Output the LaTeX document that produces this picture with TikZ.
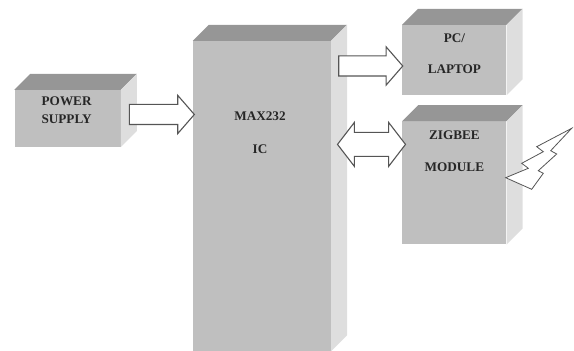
\documentclass[tikz,border=0pt]{standalone}
\usepackage{xcolor}
\usepackage{fontspec}
\setmainfont{Liberation Serif}
\usetikzlibrary{arrows.meta,positioning,shapes.arrows,calc}
\definecolor{boxfront}{RGB}{191,191,191}
\definecolor{boxtop}{RGB}{150,150,150}
\definecolor{boxside}{RGB}{222,222,222}
\definecolor{arrline}{RGB}{85,85,85}

\begin{document}
\begin{tikzpicture}[
  x=1pt, y=1pt,
  blk/.style={rectangle, fill=boxfront, inner sep=0pt, minimum width=#1},
  blk/.default=104pt,
  lbl/.style={inner sep=0pt, align=center, font=\fontsize{13.2}{14}\selectfont\bfseries, text=black!85},
  arr/.style={single arrow, draw=arrline, line width=1.1pt, fill=white, inner xsep=0pt, inner ysep=9.5pt,
    minimum width=37pt, single arrow head extend=9pt, single arrow tip angle=98},
  darr/.style={double arrow, draw=arrline, line width=1.1pt, fill=white, inner xsep=0pt, inner ysep=11.5pt,
    minimum width=43pt, double arrow head extend=10pt, double arrow tip angle=105},
  bolt/.style={draw=arrline, line width=.8pt, fill=white}
]
\useasboundingbox (0,0) rectangle (574,351);
% blocks
\node[blk=138pt, minimum height=310pt] (maxic) at (262,155) {};
\node[blk=106pt, minimum height=57pt, left=72pt of maxic.west, yshift=77.5pt] (power) {};
\node[blk, minimum height=70pt, right=71pt of maxic.east, yshift=136pt] (pc) {};
\node[blk, minimum height=123pt, below=26pt of pc] (zigbee) {};
% faces of the blocks
\foreach \b in {power,maxic,pc,zigbee}{
  \fill[boxtop] (\b.north west) -- ++(16,16) -- ($(\b.north east)+(16,16)$) -- (\b.north east) -- cycle;
  \fill[boxside] (\b.north east) -- ++(16,16) -- ($(\b.south east)+(16,16)$) -- (\b.south east) -- cycle;
}
% labels
\node[lbl, below=7pt of power.north, xshift=-1pt] (powertxt) {POWER\\[4pt]SUPPLY};
\node[lbl, below=71pt of maxic.north, xshift=-2pt] (maxtxt) {MAX232\\[19pt]IC};
\node[lbl, below=9pt of pc.north] (pctxt) {PC/\\[17pt]LAPTOP};
\node[lbl, below=9pt of zigbee.north] (zigtxt) {ZIGBEE\\[18pt]MODULE};
% arrows
\node[arr, minimum height=65pt, right=8pt of power.east, yshift=4pt] (a1) {};
\node[arr, minimum height=64pt, right=7pt of maxic.east, yshift=130pt] (a2) {};
\node[darr, minimum height=68pt, left=-4pt of zigbee.west, yshift=38.5pt] (a3) {};
% wireless symbol
\draw[bolt] (571.7,222.7) -- (536.7,204.3) -- (543.3,199.3) -- (521.7,187.7) -- (528.3,182.7)
  -- (505.7,173.3) -- (531.7,161.7) -- (543.3,177.7) -- (538.3,180.3) -- (556.7,197) -- (550.7,200.3) -- cycle;
\end{tikzpicture}
\end{document}
